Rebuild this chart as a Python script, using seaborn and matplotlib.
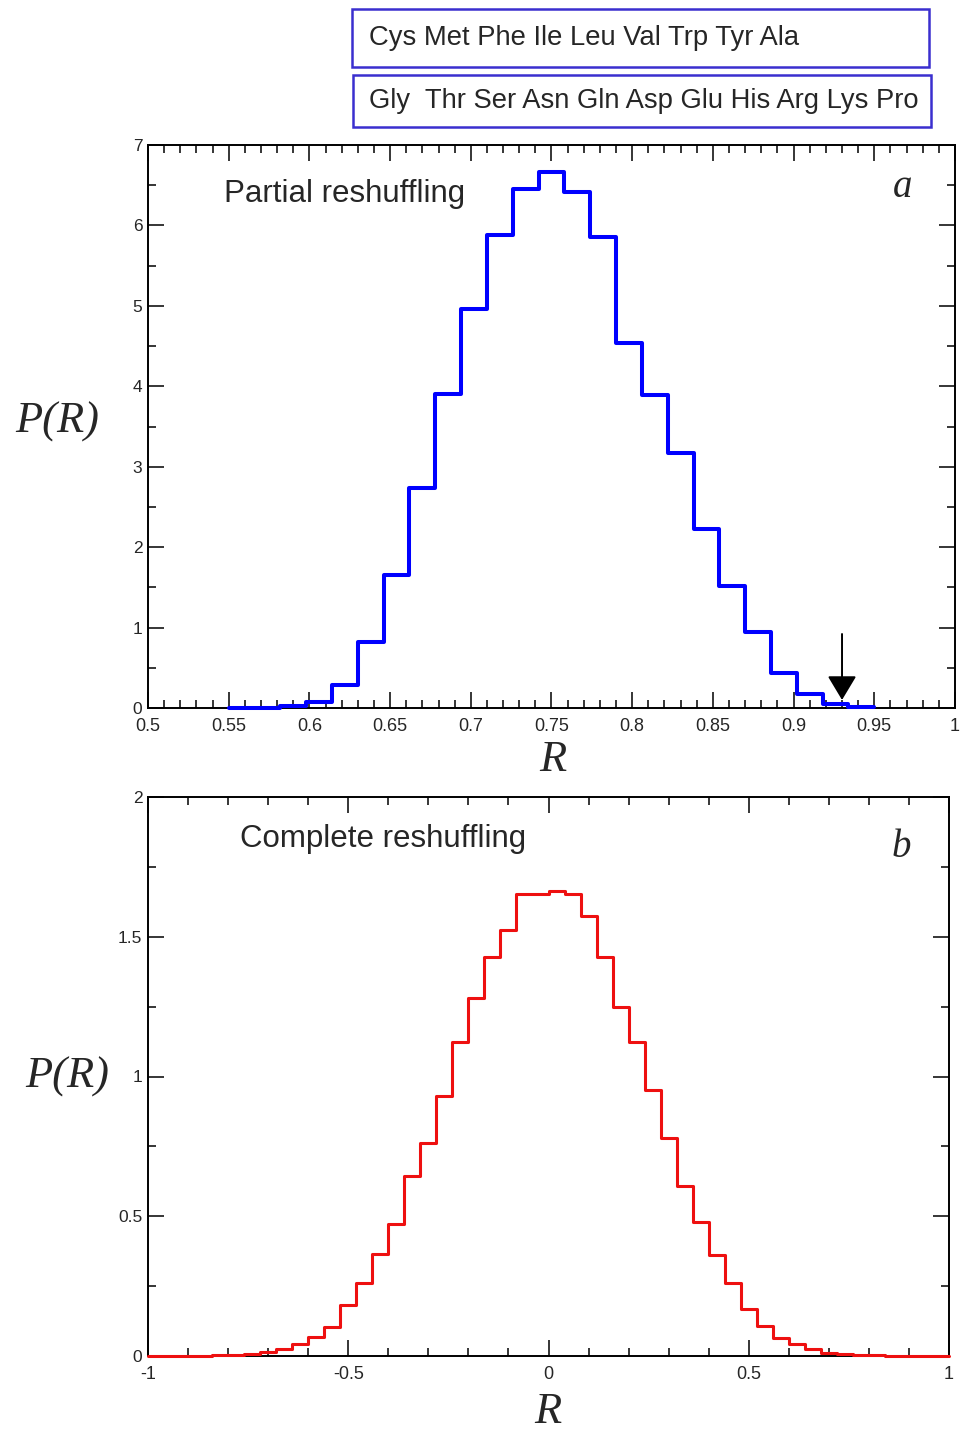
import numpy as np
import pandas as pd
import matplotlib
matplotlib.use("Agg")
import matplotlib.pyplot as plt
from matplotlib.patches import Rectangle
from matplotlib.ticker import MultipleLocator
import seaborn as sns

# ---------------- data ----------------
partial_range = (0.55, 0.95)
partial_heights = [0.003, 0.006, 0.02, 0.07, 0.28, 0.82, 1.65, 2.74, 3.91, 4.96,
                   5.88, 6.45, 6.66, 6.41, 5.86, 4.54, 3.89, 3.17, 2.23, 1.52,
                   0.94, 0.44, 0.17, 0.045, 0.01]

complete_range = (-1.0, 1.0)
complete_heights = [0.0, 0.0, 0.0005, 0.001, 0.002, 0.004, 0.007, 0.015, 0.024, 0.042,
                    0.069, 0.105, 0.182, 0.26, 0.364, 0.471, 0.644, 0.761, 0.931, 1.122,
                    1.282, 1.429, 1.524, 1.652, 1.652,
                    1.664, 1.652, 1.574, 1.429, 1.248, 1.122, 0.952, 0.781, 0.608, 0.48,
                    0.361, 0.26, 0.168, 0.107, 0.063, 0.042, 0.024, 0.012, 0.006, 0.003,
                    0.002, 0.001, 0.0005, 0.0, 0.0]

group1 = "Cys Met Phe Ile Leu Val Trp Tyr Ala"
group2 = "Gly  Thr Ser Asn Gln Asp Glu His Arg Lys Pro"

top_xticks = [0.5, 0.55, 0.6, 0.65, 0.7, 0.75, 0.8, 0.85, 0.9, 0.95, 1.0]
top_xticklabels = ["0.5", "0.55", "0.6", "0.65", "0.7", "0.75", "0.8", "0.85", "0.9", "0.95", "1"]
top_yticks = [0, 1, 2, 3, 4, 5, 6, 7]
bot_xticks = [-1, -0.5, 0, 0.5, 1]
bot_xticklabels = ["-1", "-0.5", "0", "0.5", "1"]
bot_yticks = [0, 0.5, 1, 1.5, 2]
bot_yticklabels = ["0", "0.5", "1", "1.5", "2"]

arrow_x = 0.93
arrow_from = 0.92
arrow_to = 0.10


def bin_centers(rng, n):
    w = (rng[1] - rng[0]) / n
    return rng[0] + w * (np.arange(n) + 0.5)


# ---------------- style ----------------
sns.set_style("ticks")
plt.rcParams["font.family"] = ["Liberation Sans", "DejaVu Sans"]

fig = plt.figure(figsize=(9.62, 14.33), dpi=100)
ax1 = fig.add_axes([148 / 962, 1 - 708 / 1433, (955 - 148) / 962, (708 - 145) / 1433])
ax2 = fig.add_axes([148 / 962, 1 - 1356 / 1433, (949 - 148) / 962, (1356 - 797) / 1433])

serif = ["Liberation Serif", "DejaVu Serif"]


def style_axes(ax):
    for s in ax.spines.values():
        s.set_linewidth(1.4)
        s.set_color("black")
        s.set_zorder(2)
    ax.tick_params(which="both", direction="in", top=True, right=True,
                   width=1.1, color="black")
    ax.tick_params(axis="x", labelsize=13, pad=7)
    ax.tick_params(axis="y", labelsize=12.5, pad=4)
    ax.tick_params(which="major", length=11.5)
    ax.tick_params(which="minor", length=6)
    ax.set_xlabel("")
    ax.set_ylabel("")
    for ln in ax.lines:
        ln.set_zorder(3)
        ln.set_clip_on(False)


# top panel
df1 = pd.DataFrame({"R": bin_centers(partial_range, len(partial_heights)),
                    "P": partial_heights})
sns.histplot(data=df1, x="R", weights="P", bins=len(partial_heights),
             binrange=partial_range, element="step", fill=False, stat="count",
             color="#0000ff", linewidth=2.9, ax=ax1)
ax1.set_xlim(0.5, 1.0)
ax1.set_ylim(0, 7)
ax1.set_xticks(top_xticks)
ax1.set_xticklabels(top_xticklabels)
ax1.set_yticks(top_yticks)
ax1.xaxis.set_minor_locator(MultipleLocator(0.01))
ax1.yaxis.set_minor_locator(MultipleLocator(0.5))
style_axes(ax1)
ax1.text(0.094, 0.913, "Partial reshuffling", transform=ax1.transAxes,
         fontsize=22.5, ha="left", va="center")
ax1.text(0.935, 0.925, "a", transform=ax1.transAxes, fontsize=28,
         family=serif, style="italic", ha="center", va="center")
ax1.annotate("", xy=(arrow_x, arrow_to), xytext=(arrow_x, arrow_from),
             arrowprops=dict(arrowstyle="-|>,head_length=1.5,head_width=0.9",
                             color="black", lw=1.4, shrinkA=0, shrinkB=0),
             zorder=4)

# bottom panel
df2 = pd.DataFrame({"R": bin_centers(complete_range, len(complete_heights)),
                    "P": complete_heights})
sns.histplot(data=df2, x="R", weights="P", bins=len(complete_heights),
             binrange=complete_range, element="step", fill=False, stat="count",
             color="#ee1010", linewidth=2.2, ax=ax2)
ax2.set_xlim(-1, 1)
ax2.set_ylim(0, 2)
ax2.set_xticks(bot_xticks)
ax2.set_xticklabels(bot_xticklabels)
ax2.set_yticks(bot_yticks)
ax2.set_yticklabels(bot_yticklabels)
ax2.xaxis.set_minor_locator(MultipleLocator(0.1))
ax2.yaxis.set_minor_locator(MultipleLocator(0.25))
style_axes(ax2)
ax2.text(0.115, 0.925, "Complete reshuffling", transform=ax2.transAxes,
         fontsize=22.5, ha="left", va="center")
ax2.text(0.94, 0.91, "b", transform=ax2.transAxes, fontsize=28,
         family=serif, style="italic", ha="center", va="center")

# axis labels as figure text
fig.text(57 / 962, 1 - 422 / 1433, "P(R)", family=serif, style="italic",
         fontsize=32, ha="center", va="center")
fig.text(553 / 962, 1 - 760 / 1433, "R", family=serif, style="italic",
         fontsize=32, ha="center", va="center")
fig.text(67 / 962, 1 - 1077 / 1433, "P(R)", family=serif, style="italic",
         fontsize=32, ha="center", va="center")
fig.text(548 / 962, 1 - 1412 / 1433, "R", family=serif, style="italic",
         fontsize=32, ha="center", va="center")

# boxes with amino acid groups
box_color = "#3a2fcf"
for (x0, y0, x1, y1, txt) in [(352, 9, 929, 67, group1), (353, 75, 931, 127, group2)]:
    fig.patches.append(Rectangle((x0 / 962, 1 - y1 / 1433), (x1 - x0) / 962, (y1 - y0) / 1433,
                                 transform=fig.transFigure, fill=False,
                                 edgecolor=box_color, linewidth=1.8))
    fig.text(369 / 962, 1 - ((y0 + y1) / 2) / 1433, txt, fontsize=19.7,
             ha="left", va="center")

fig.savefig("out.png", dpi=100)
